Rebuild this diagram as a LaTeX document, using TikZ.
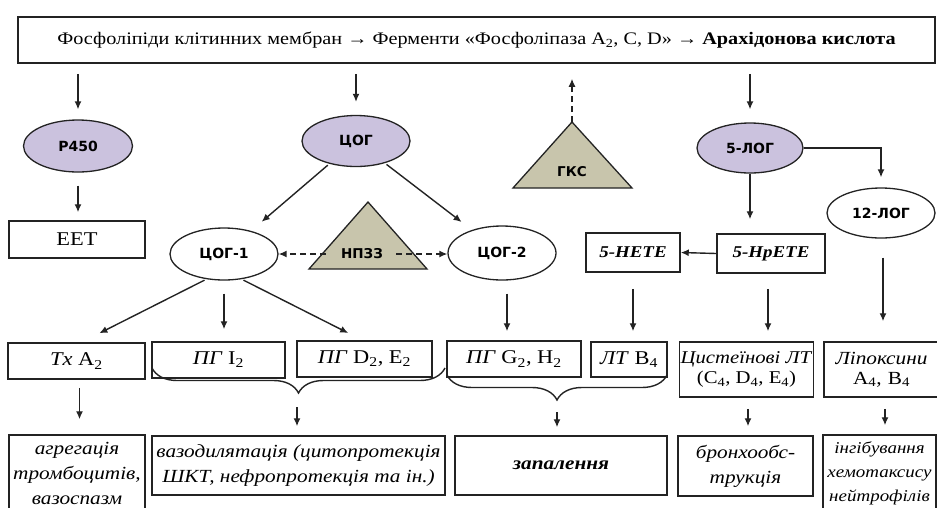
\documentclass[tikz,border=0pt]{standalone}
\usepackage{fontspec}
\setmainfont{Liberation Serif}[FakeStretch=1.15]
\newfontfamily\enzfont{DejaVu Sans}
\usepackage{tikz}
\usetikzlibrary{arrows.meta,shapes.geometric,decorations.pathreplacing}

\definecolor{enzlilac}{RGB}{203,194,222}
\definecolor{drugkhaki}{RGB}{200,197,172}
\definecolor{edge}{RGB}{35,35,35}

\tikzset{
	arr/.style={line width=1.4pt, draw=edge, -{Latex[length=8pt,width=7pt]}},
	dasharr/.style={arr, dash pattern=on 6pt off 4pt},
	box/.style={draw=edge, line width=1.5pt, inner sep=1pt, align=center,
		font=\fontsize{19.5}{21}\selectfont},
	effbox/.style={box, font=\itshape\fontsize{18.5}{25}\selectfont},
	enz/.style={ellipse, draw=edge, line width=1.3pt, fill=enzlilac, inner sep=0pt,
		minimum width=108pt, minimum height=51pt,
		font=\enzfont\bfseries\fontsize{14}{16}\selectfont},
	iso/.style={enz, fill=white},
	drug/.style={draw=edge, line width=1.3pt, fill=drugkhaki},
	druglabel/.style={font=\enzfont\bfseries\fontsize{13.5}{15}\selectfont},
	brc/.style={decorate, decoration={brace, mirror, amplitude=25pt}, line width=1.4pt, draw=edge}
}

\begin{document}
\begin{tikzpicture}[x=1pt, y=-1pt]
			\useasboundingbox (0,0) rectangle (937,507);

			\node [box, minimum width=917pt, minimum height=46pt, font=\fontsize{17.6}{19}\selectfont] (src) at (476.5,40)
			{Фосфоліпіди клітинних мембран → Ферменти «Фосфоліпаза A\textsubscript{2}, C, D» → \textbf{Арахідонова кислота}};

			\node [enz, minimum width=109pt, minimum height=52pt] (p450) at (78,146) {P450};
			\node [enz] (cog) at (356,141) {ЦОГ};
			\node [enz, minimum width=106pt, minimum height=50pt] (lox5) at (750,148) {5-ЛОГ};

			\draw [arr, shorten <=10pt, shorten >=10pt] (src.south -| p450) -- (p450.north);
			\draw [arr, shorten <=10pt, shorten >=13pt] (src.south -| cog) -- (cog.north);
			\draw [arr, shorten <=10pt, shorten >=13pt] (src.south -| lox5) -- (lox5.north);

			\draw [drug] (513,188) -- (572,122) -- (632,188) -- cycle;
			\coordinate (gksTop) at (572,122);
			\node [druglabel] (gks) at (572,172) {ГКС};
			\draw [dasharr, shorten >=15pt] (gksTop) -- (gksTop |- src.south);

			\node [box, minimum width=136pt, minimum height=37pt] (eet) at (77,239.5) {EET};
			\draw [arr, shorten <=13pt, shorten >=8pt] (p450.south) -- (p450.south |- eet.north);

			\node [iso, minimum height=52pt] (cog1) at (224,254) {ЦОГ-1};
			\node [iso, minimum height=54pt] (cog2) at (502,253) {ЦОГ-2};
			\node [iso, minimum height=50pt] (lox12) at (881,213) {12-ЛОГ};

			\draw [arr, shorten <=2pt, shorten >=14pt] (cog) -- (cog1);
			\draw [arr, shorten <=2pt, shorten >=13pt] (cog) -- (cog2);

			\draw [drug] (309,269) -- (368,202) -- (427,269) -- cycle;
			\node [druglabel] (nsaid) at (362,254) {НПЗЗ};
			\draw [dasharr, shorten <=12pt] (nsaid.west) -- (nsaid.west -| cog1.east);
			\draw [dasharr, shorten <=10pt] (nsaid.east) -- (nsaid.east -| cog2.west);

			\node [box, minimum width=94pt, minimum height=39pt, font=\bfseries\itshape\fontsize{16.5}{18}\selectfont] (hete) at (633,252.5) {5-HETE};
			\node [box, minimum width=108pt, minimum height=39pt, font=\bfseries\itshape\fontsize{16.5}{18}\selectfont] (hpete) at (771,253.5) {5-HpETE};
			\draw [arr, shorten >=14pt] (lox5.south) -- (lox5.south |- hpete.north);
			\draw [arr] (hpete.west) -- (hete.east);
			\draw [arr, shorten >=10pt] (lox5.east) -| (lox12.north);

			\node [box, minimum width=137pt, minimum height=36pt] (tx) at (76.5,361) {\textit{Tx} A\textsubscript{2}};
			\node [box, minimum width=133pt, minimum height=36pt] (pgi) at (218.5,360) {\textit{ПГ} I\textsubscript{2}};
			\node [box, minimum width=135pt, minimum height=36pt] (pgd) at (364.5,359) {\textit{ПГ} D\textsubscript{2}, E\textsubscript{2}};
			\node [box, minimum width=134pt, minimum height=36pt] (pgg) at (514,359) {\textit{ПГ} G\textsubscript{2}, H\textsubscript{2}};
			\node [box, minimum width=76pt, minimum height=35pt] (ltb) at (629,359.5) {\textit{ЛТ} B\textsubscript{4}};
			\node [box, minimum width=133pt, minimum height=55pt, font=\fontsize{18}{20}\selectfont] (cys) at (746.5,369.5)
			{\textit{Цистеїнові ЛТ}\\(C\textsubscript{4}, D\textsubscript{4}, E\textsubscript{4})};
			\node [box, text width=113pt, minimum height=55pt, font=\fontsize{18.5}{20}\selectfont] (lipox) at (881.5,369.5)
			{\textit{Ліпоксини}\\A\textsubscript{4}, B\textsubscript{4}};

			\draw [arr, shorten <=2pt, shorten >=20pt] (cog1.235) -- ([xshift=5pt]tx.north);
			\draw [arr, shorten <=13pt, shorten >=12pt] (cog1.south) -- (cog1.south |- pgi.north);
			\draw [arr, shorten <=2pt, shorten >=16pt] (cog1.305) -- ([xshift=-2pt]pgd.north);
			\draw [arr, shorten <=13pt, shorten >=9pt] ([xshift=5pt]cog2.south) -- ([xshift=5pt]cog2.south |- pgg.north);
			\draw [arr, shorten <=16pt, shorten >=10pt] (hete.south) -- (hete.south |- ltb.north);
			\draw [arr, shorten <=15pt, shorten >=10pt] ([xshift=-3pt]hpete.south) -- ([xshift=-3pt]hpete.south |- cys.north);
			\draw [arr, shorten <=19pt, shorten >=20pt] ([xshift=2pt]lox12.south) -- ([xshift=2pt]lox12.south |- lipox.north);

			\draw [brc] (152,368) -- (445,368);
			\coordinate (brA) at (297,393);
			\draw [brc] (447,375) -- (667,375);
			\coordinate (brB) at (557,400);

			\node [effbox, minimum width=136pt, minimum height=77pt] (aggr) at (77,473.5) {агрегація\\тромбоцитів,\\вазоспазм};
			\node [effbox, minimum width=293pt, minimum height=59pt] (vaso) at (298.5,465.5) {вазодилятація (цитопротекція\\ШКТ, нефропротекція та ін.)};
			\node [effbox, minimum width=212pt, minimum height=59pt] (infl) at (561,465.5) {\textbf{запалення}};
			\node [effbox, minimum width=135pt, minimum height=60pt] (bronch) at (745.5,466) {бронхообс-\\трукція};
			\node [effbox, text width=111pt, minimum height=77pt, font=\itshape\fontsize{16.5}{24}\selectfont] (inhib) at (879.5,473.5) {інгібування\\хемотаксису\\нейтрофілів};

			\draw [arr, shorten <=8pt, shorten >=15pt] ([xshift=3pt]tx.south) -- ([xshift=3pt]tx.south |- aggr.north);
			\draw [arr, shorten <=14pt, shorten >=9pt] (brA) -- (brA |- vaso.north);
			\draw [arr, shorten <=12pt, shorten >=8pt] (brB) -- (brB |- infl.north);
			\draw [arr, shorten <=11pt, shorten >=9pt] ([xshift=1.5pt]cys.south) -- ([xshift=1.5pt]cys.south |- bronch.north);
			\draw [arr, shorten <=11pt, shorten >=9pt] ([xshift=3.5pt]lipox.south) -- ([xshift=3.5pt]lipox.south |- inhib.north);
		\end{tikzpicture}
\end{document}
